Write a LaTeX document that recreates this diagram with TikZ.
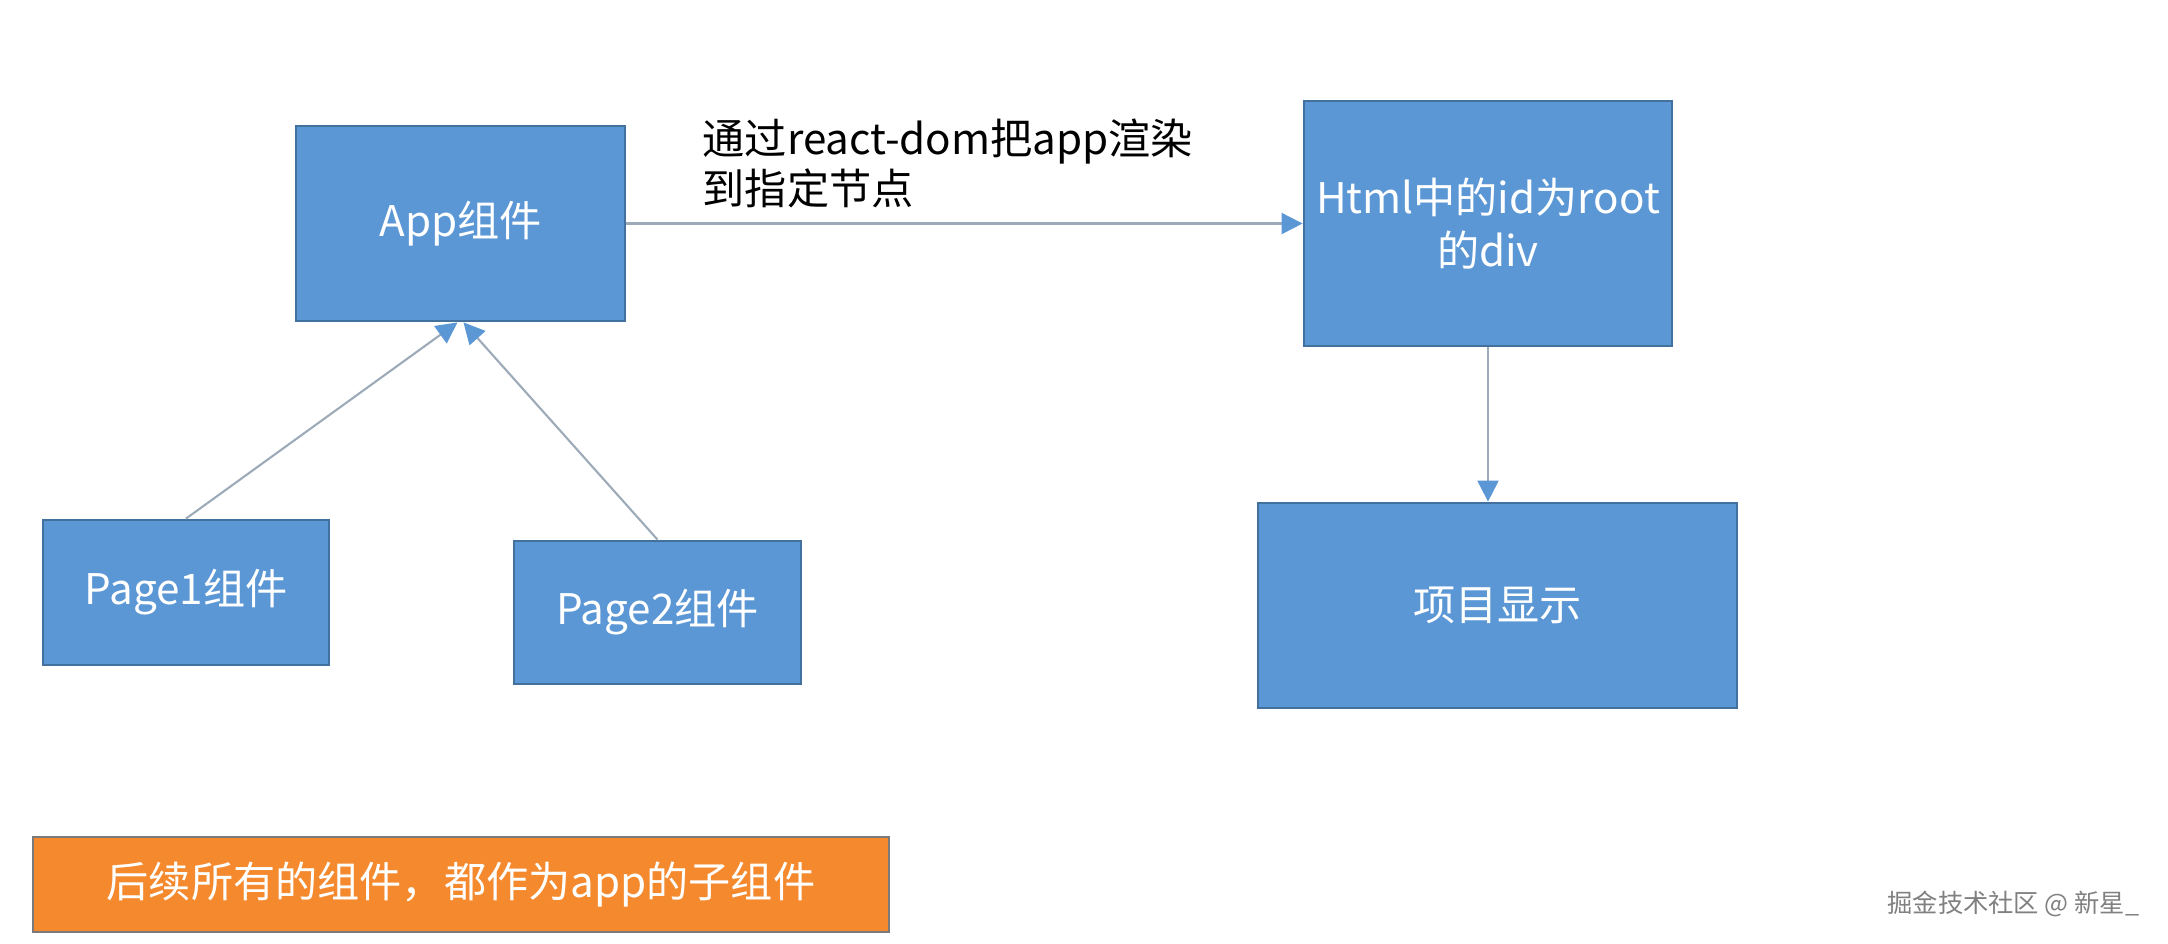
\documentclass[tikz,border=0pt]{standalone}
\usepackage{fontspec}
\usepackage{tikz}
\usetikzlibrary{arrows.meta,positioning,calc}
\usepackage{xcolor}
\newfontfamily\cjk{Noto Sans CJK SC}
\definecolor{boxblue}{HTML}{5B97D5}
\definecolor{boxedge}{HTML}{41719C}
\definecolor{noteorange}{HTML}{F5892D}
\definecolor{noteedge}{HTML}{7A7A7A}
\definecolor{linkgray}{HTML}{9DAAB8}
\definecolor{tipblue}{HTML}{5B97D5}

\tikzset{
  comp/.style={draw=boxedge, fill=boxblue, line width=0.8pt, text=white, font=\cjk\fontsize{12}{15}\selectfont, align=center, inner sep=0pt},
  link/.style={draw=linkgray, line width=0.6pt, -{Triangle[length=6pt, width=6pt, color=tipblue]}},
}

\begin{document}
\begin{tikzpicture}
  \useasboundingbox (0,0) rectangle (21.68,-9.43);

  % components
  \node[comp, minimum width=3.29cm, minimum height=1.95cm] (app) at (4.605,-2.235) {App组件};
  \node[comp, minimum width=3.68cm, minimum height=2.45cm] (html) at (14.88,-2.235) {Html中的id为root\\的div};
  \node[comp, minimum width=2.86cm, minimum height=1.45cm] (page1) at (1.86,-5.925) {Page1组件};
  \node[comp, minimum width=2.87cm, minimum height=1.43cm] (page2) at (6.575,-6.125) {Page2组件};
  \node[comp, minimum width=4.79cm, minimum height=2.05cm] (show) at (14.975,-6.055) {项目显示};

  % render label
  \node[anchor=north west, align=left, inner sep=0pt, font=\cjk\fontsize{12}{14.4}\selectfont] (render) at (7.02,-1.18) {通过react-dom把app渲染\\到指定节点};

  % note
  \node[draw=noteedge, fill=noteorange, line width=0.8pt, text=white, font=\cjk\fontsize{12}{14}\selectfont,
        minimum width=8.56cm, minimum height=0.95cm, inner sep=0pt] (note) at (4.61,-8.845) {后续所有的组件，都作为app的子组件};

  \node[text=gray, font=\cjk\fontsize{7.2}{9}\selectfont, anchor=east, inner sep=0pt] (mark) at (21.4,-9.04) {掘金技术社区 @ 新星\_};

  % connectors
  \draw[link] (app) -- (html);
  \draw[link] (html.south) -- (html.south |- show.north);
  \draw[link] (page1.north) -- ([xshift=-0.03cm]app.south);
  \draw[link] (page2.north) -- ([xshift=0.03cm]app.south);
\end{tikzpicture}
\end{document}
